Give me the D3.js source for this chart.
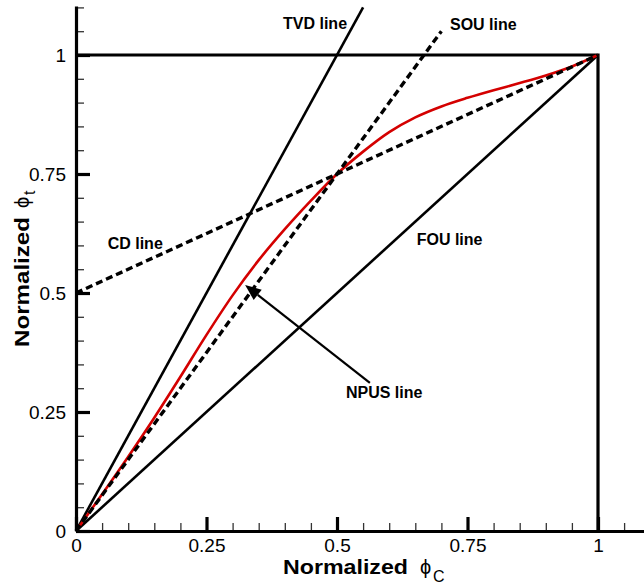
<!DOCTYPE html>
<html>
<head>
<meta charset="utf-8">
<script src="https://cdn.jsdelivr.net/npm/d3@7"></script>
<style>
  html, body { margin: 0; padding: 0; background: #fff; }
  svg { display: block; }
  text { font-family: "Liberation Sans", Arial, sans-serif; fill: #000; }
</style>
</head>
<body>
<script>
// ---------- data ----------
const xTicks = [0, 0.25, 0.5, 0.75, 1];
const xTickLabels = ["0", "0.25", "0.5", "0.75", "1"];
const yTicks = [0, 0.25, 0.5, 0.75, 1];
const yTickLabels = ["0", "0.25", "0.5", "0.75", "1"];

// reference lines (normalized variable diagram)
const fouX = [0, 1];     const fouY = [0, 1];        // FOU: y = x
const tvdX = [0, 0.55];  const tvdY = [0, 1.1];      // TVD: y = 2x
const souX = [0, 0.70];  const souY = [0, 1.05];     // SOU: y = 1.5x
const cdX  = [0, 1];     const cdY  = [0.5, 1];      // CD : y = 0.5 + 0.5x
const boxX = [0, 1, 1];  const boxY = [1, 1, 0];     // upper/right bound

// NPUS curve
const npusX = [0, 0.05, 0.10, 0.15, 0.20, 0.25, 0.30, 0.35, 0.40, 0.45, 0.50,
               0.55, 0.60, 0.65, 0.70, 0.75, 0.80, 0.85, 0.90, 0.95, 1.00];
const npusY = [0, 0.077, 0.156, 0.238, 0.324, 0.412, 0.495, 0.569, 0.634, 0.694, 0.75,
               0.797, 0.838, 0.869, 0.892, 0.910, 0.926, 0.941, 0.957, 0.976, 1.0];

// annotation arrow (tail -> tip) and line labels, in data units
const arrowX = [0.563, 0.324];
const arrowY = [0.311, 0.517];
const labelText = ["TVD line", "SOU line", "CD line", "FOU line", "NPUS line"];
const labelX = [0.3966, 0.7165, 0.0607, 0.6527, 0.5172];
const labelY = [1.0546, 1.0515, 0.5918, 0.6008, 0.280];

// ---------- layout ----------
const W = 644, H = 588;
const x = d3.scaleLinear().domain([0, 1]).range([76, 598]);
const y = d3.scaleLinear().domain([0, 1]).range([531, 55]);
const xExt = x.copy().domain([0, x.invert(W)]).range([x(0), W]);
const yExt = y.copy().domain([0, y.invert(6)]).range([y(0), 6]);

const svg = d3.select("body").append("svg").attr("width", W).attr("height", H);

const line = (xs, ys, curve) => d3.line().x(i => x(xs[i])).y(i => y(ys[i]))
  .curve(curve || d3.curveLinear)(d3.range(xs.length));

// solid black lines
const solid = [[fouX, fouY], [tvdX, tvdY]];
svg.append("g").selectAll("path").data(solid).join("path")
  .attr("d", d => line(d[0], d[1]))
  .attr("fill", "none").attr("stroke", "#000").attr("stroke-width", 2.6);

svg.append("path").attr("d", line(boxX, boxY))
  .attr("fill", "none").attr("stroke", "#000").attr("stroke-width", 3.2)
  .attr("stroke-linejoin", "miter");

// NPUS red curve
svg.append("path").attr("d", line(npusX, npusY, d3.curveMonotoneX))
  .attr("fill", "none").attr("stroke", "#d40000").attr("stroke-width", 2.6);

// dashed lines
const dashed = [[souX, souY], [cdX, cdY]];
svg.append("g").selectAll("path").data(dashed).join("path")
  .attr("d", d => line(d[0], d[1]))
  .attr("fill", "none").attr("stroke", "#000").attr("stroke-width", 3.4)
  .attr("stroke-dasharray", "7,4");

// arrow
const ax0 = x(arrowX[0]), ay0 = y(arrowY[0]), ax1 = x(arrowX[1]), ay1 = y(arrowY[1]);
const ang = Math.atan2(ay1 - ay0, ax1 - ax0);
const hl = 16, hw = 6.5;
const bx = ax1 - hl * Math.cos(ang), by = ay1 - hl * Math.sin(ang);
svg.append("line").attr("x1", ax0).attr("y1", ay0).attr("x2", bx).attr("y2", by)
  .attr("stroke", "#000").attr("stroke-width", 2.2);
svg.append("path")
  .attr("d", `M${ax1},${ay1}L${bx - hw * Math.sin(ang)},${by + hw * Math.cos(ang)}L${bx + hw * Math.sin(ang)},${by - hw * Math.cos(ang)}Z`)
  .attr("fill", "#000");

// labels
svg.append("g").selectAll("text").data(labelText).join("text")
  .attr("x", (d, i) => x(labelX[i])).attr("y", (d, i) => y(labelY[i]))
  .attr("font-size", 16).attr("font-weight", "bold").text(d => d);

// ---------- axes ----------
const minorX = d3.range(0.05, 1.0501, 0.05).filter(v => Math.abs(v * 4 - Math.round(v * 4)) > 1e-6);
const minorY = d3.range(0.05, 1.1001, 0.05).filter(v => Math.abs(v * 4 - Math.round(v * 4)) > 1e-6);

// x minor
svg.append("g").attr("transform", `translate(0,${y(0)})`)
  .call(d3.axisBottom(xExt).tickValues(minorX).tickSize(-8).tickFormat(""))
  .call(g => g.select(".domain").remove())
  .call(g => g.selectAll(".tick line").attr("stroke", "#333").attr("stroke-width", 1.3));
// y minor
svg.append("g").attr("transform", `translate(${x(0)},0)`)
  .call(d3.axisLeft(yExt).tickValues(minorY).tickSize(-8).tickFormat(""))
  .call(g => g.select(".domain").remove())
  .call(g => g.selectAll(".tick line").attr("stroke", "#333").attr("stroke-width", 1.3));

// x major
svg.append("g").attr("transform", `translate(0,${y(0)})`)
  .call(d3.axisBottom(xExt).tickValues(xTicks).tickSize(-14).tickSizeOuter(0).tickPadding(7.5)
        .tickFormat((d, i) => xTickLabels[i]))
  .call(g => g.select(".domain").attr("stroke-width", 3.2))
  .call(g => g.selectAll(".tick line").attr("stroke-width", 3.2))
  .call(g => g.selectAll(".tick text").attr("font-size", 19)
        .attr("font-family", "Liberation Sans, Arial, sans-serif").attr("fill", "#000"));
// y major
svg.append("g").attr("transform", `translate(${x(0)},0)`)
  .call(d3.axisLeft(yExt).tickValues(yTicks).tickSize(-14).tickSizeOuter(0).tickPadding(10)
        .tickFormat((d, i) => yTickLabels[i]))
  .call(g => g.select(".domain").attr("stroke-width", 3.2))
  .call(g => g.selectAll(".tick line").attr("stroke-width", 3.2))
  .call(g => g.selectAll(".tick text").attr("font-size", 19)
        .attr("font-family", "Liberation Sans, Arial, sans-serif").attr("fill", "#000"));

// axis titles
const phiFont = "DejaVu Sans, sans-serif";
const xt = svg.append("g").attr("transform", "translate(283,574)");
xt.append("text").attr("font-size", 21).attr("font-weight", "bold")
  .attr("textLength", 125).attr("lengthAdjust", "spacingAndGlyphs").text("Normalized");
xt.append("text").attr("x", 137).attr("font-size", 20).attr("font-family", phiFont).text("ϕ");
xt.append("text").attr("x", 150).attr("y", 8).attr("font-size", 16).text("C");

const yt = svg.append("g").attr("transform", "translate(28.5,347) rotate(-90)");
yt.append("text").attr("font-size", 21).attr("font-weight", "bold")
  .attr("textLength", 130).attr("lengthAdjust", "spacingAndGlyphs").text("Normalized");
yt.append("text").attr("x", 139).attr("font-size", 20).attr("font-family", phiFont).text("ϕ");
yt.append("text").attr("x", 152).attr("y", 6).attr("font-size", 16).text("t");
</script>
</body>
</html>
